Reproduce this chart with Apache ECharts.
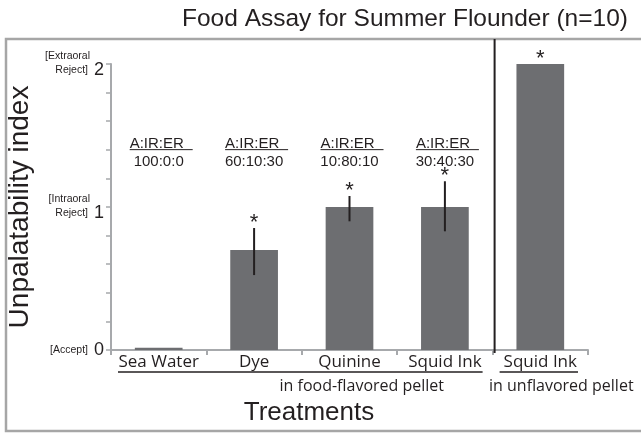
<!DOCTYPE html>
<html>
<head>
    <meta charset="utf-8">
    <script src="https://cdn.jsdelivr.net/npm/echarts@6/dist/echarts.min.js"></script>
    <style>body{margin:0;background:#fff;}</style>
</head>
<body>
    <div id="main" style="width: 641px;height:434px;"></div>
	<script type="text/javascript">
	// treatments on the x axis
	var categories = ['Sea Water', 'Dye', 'Quinine', 'Squid Ink', 'Squid Ink'];
	// mean unpalatability index
	var values = [0.015, 0.70, 1.0, 1.0, 2.0];
	// error bars [index, low, high]
	var errors = [[1, 0.524, 0.853], [2, 0.90, 1.077], [3, 0.83, 1.18]];
	// significant marker
	var sig = [false, true, true, true, true];
	// A:IR:ER ratios (first four treatments)
	var ratios = ['100:0:0', '60:10:30', '10:80:10', '30:40:30'];
	// grouping under the axis
	var groupNames = ['in food-flavored pellet', 'in unflavored pellet'];
	var groupFrom = [0, 4];
	var groupTo = [3, 4];
	var yTicks = {0: ['[Accept]'], 1: ['[Intraoral', 'Reject]'], 2: ['[Extraoral', 'Reject]']};

	var ink = '#231f20';
	var axisGray = '#a7a9ac';
	var arial = 'Liberation Sans';
	var myriad = 'Open Sans';

	var starData = [];
	categories.forEach(function (c, i) {
		if (!sig[i]) return;
		var hi = values[i];
		errors.forEach(function (e) { if (e[0] === i) hi = Math.max(hi, e[2]); });
		starData.push([i, hi]);
	});

	var myChart = echarts.init(document.getElementById('main'));
	myChart.setOption({
		animation: false,
		title: {
			text: 'Food Assay for Summer Flounder (n=10)',
			left: 177, top: 2,
			textStyle: {fontSize: 24.5, fontWeight: 'normal', color: ink, fontFamily: arial}
		},
		graphic: [
			{type: 'rect', z: -10, shape: {x: 6, y: 39, width: 640, height: 392},
			 style: {fill: 'none', stroke: '#a6a6a6', lineWidth: 2.5}},
			{type: 'text', style: {text: 'Treatments', x: 309, y: 413, textAlign: 'center',
			 textVerticalAlign: 'middle', font: '26px "Liberation Sans"', fill: ink}}
		],
		grid: {left: 111, right: 53, top: 64, bottom: 84, outerBoundsMode: 'none'},
		xAxis: {
			type: 'category',
			data: categories,
			axisLine: {lineStyle: {color: axisGray, width: 2}},
			axisTick: {show: true, length: 5, lineStyle: {color: axisGray, width: 2}},
			axisLabel: {interval: 0, hideOverlap: false, margin: 4, fontSize: 17, color: ink, fontFamily: myriad}
		},
		yAxis: {
			type: 'value', min: 0, max: 2, interval: 1,
			name: 'Unpalatability index', nameLocation: 'middle', nameGap: 51,
			nameTextStyle: {fontSize: 28, color: ink, fontFamily: arial},
			axisLine: {show: true, lineStyle: {color: axisGray, width: 2}},
			axisTick: {show: true, length: 5, lineStyle: {color: axisGray, width: 1.5}},
			minorTick: {show: true, splitNumber: 5, length: 5, lineStyle: {color: axisGray, width: 1.5}},
			splitLine: {show: false},
			axisLabel: {
				margin: 7, color: ink, fontFamily: arial,
				formatter: function (v) {
					var t = yTicks[v];
					if (!t) return '';
					if (t.length === 1) return '{s|' + t[0] + '}{g|}{n|' + v + '}';
					return '{s|' + t[0] + '}{w|}\n{s|' + t[1] + '}{g|}{n|' + v + '}';
				},
				rich: {
					s: {fontSize: 10.5, lineHeight: 12, fontFamily: arial, color: ink},
					n: {fontSize: 18, lineHeight: 16, fontFamily: arial, color: ink},
					g: {width: 6},
					w: {width: 14}
				}
			}
		},
		series: [
			{
				type: 'bar', data: values, barWidth: '50%',
				itemStyle: {color: '#6d6e71'}
			},
			{
				type: 'custom', data: errors, clip: false, z: 3,
				renderItem: function (params, api) {
					var a = api.coord([api.value(0), api.value(1)]);
					var b = api.coord([api.value(0), api.value(2)]);
					return {type: 'line', shape: {x1: a[0], y1: a[1], x2: b[0], y2: b[1]},
						style: {stroke: ink, lineWidth: 2}};
				}
			},
			{
				type: 'custom', data: starData, clip: false, z: 4,
				renderItem: function (params, api) {
					var p = api.coord([api.value(0), api.value(1)]);
					return {type: 'text', style: {text: '*', x: p[0], y: p[1] - 5, textAlign: 'center',
						textVerticalAlign: 'middle', font: '22px "Liberation Sans"', fill: ink}};
				}
			},
			{
				type: 'custom', data: ratios.map(function (r, i) { return [i]; }), clip: false,
				renderItem: function (params, api) {
					var p = api.coord([api.value(0), 1.45]);
					return {type: 'group', children: [
						{type: 'text', style: {text: 'A:IR:ER', x: p[0] - 29, y: p[1] + 1, textAlign: 'left',
							textVerticalAlign: 'middle', font: '15px "Liberation Sans"', fill: ink}},
						{type: 'line', shape: {x1: p[0] - 29, y1: p[1] + 7, x2: p[0] + 34, y2: p[1] + 7},
							style: {stroke: ink, lineWidth: 1}},
						{type: 'text', style: {text: ratios[params.dataIndex], x: p[0], y: p[1] + 19,
							textAlign: 'center', textVerticalAlign: 'middle', font: '15px "Liberation Sans"', fill: ink}}
					]};
				}
			},
			{
				type: 'custom', data: groupNames.map(function (g, i) { return [i]; }), clip: false,
				renderItem: function (params, api) {
					var k = params.dataIndex;
					var band = api.size([1, 0])[0];
					var left = api.coord([groupFrom[k], 0])[0] - band / 2;
					var right = api.coord([groupTo[k], 0])[0] + band / 2;
					var y0 = api.coord([0, 0])[1];
					var kids = [
						{type: 'line', shape: {x1: left + 7, y1: y0 + 22, x2: right - 10, y2: y0 + 22},
							style: {stroke: ink, lineWidth: 1.5}},
						{type: 'text', style: {text: groupNames[k], x: (left + right) / 2 + [60, 21][k], y: y0 + 36,
							textAlign: 'center', textVerticalAlign: 'middle', font: '16px "Open Sans"', fill: ink}}
					];
					if (k > 0) {
						kids.push({type: 'line', shape: {x1: left + 2, y1: 39, x2: left + 2, y2: y0 + 3},
							style: {stroke: ink, lineWidth: 2}});
					}
					return {type: 'group', children: kids};
				}
			}
		]
	});
	</script>
</body>
</html>
